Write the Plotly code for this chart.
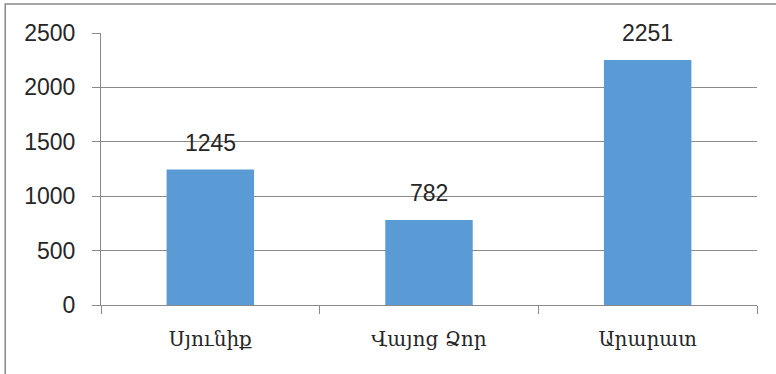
import plotly.graph_objects as go

categories = ["Սյունիք", "Վայոց Ձոր", "Արարատ"]
values = [1245, 782, 2251]
y_ticks = [0, 500, 1000, 1500, 2000, 2500]

grid = "#8a8a8a"
fig = go.Figure(go.Bar(
    x=categories, y=values,
    marker=dict(color="#5B9BD5", line=dict(width=0)),
    width=0.4,
    hoverinfo="x+y",
))

for c, v in zip(categories, values):
    fig.add_annotation(x=c, y=v, text=str(v), showarrow=False,
                       yanchor="middle", yshift=27,
                       font=dict(family="Liberation Sans", size=23, color="#262626"))

fig.update_layout(
    width=776, height=374,
    margin=dict(l=101, r=19, t=33, b=69),
    plot_bgcolor="white", paper_bgcolor="white",
    showlegend=False,
    xaxis=dict(
        showline=True, linecolor=grid, linewidth=1,
        ticks="outside", tickson="boundaries", ticklen=8, tickcolor=grid,
        tickfont=dict(family="DejaVu Serif", size=20, color="#262626"),
        ticklabelstandoff=16,
        showgrid=False,
    ),
    yaxis=dict(
        range=[0, 2500], tickvals=y_ticks,
        showline=True, linecolor=grid, linewidth=1,
        ticks="outside", ticklen=8, tickcolor=grid,
        showgrid=True, gridcolor=grid, gridwidth=1,
        zeroline=False,
        tickfont=dict(family="Liberation Sans", size=23, color="#262626"),
        ticklabelstandoff=12,
    ),
    shapes=[dict(type="rect", xref="paper", yref="paper",
                 x0=-0.146, x1=1.2, y0=-0.6, y1=1.107,
                 line=dict(color="#888", width=1.5), layer="below")],
)

fig.write_html("out.html",
               config={"displayModeBar": False},
               post_script="document.body.style.margin='0';document.body.style.padding='0';")
